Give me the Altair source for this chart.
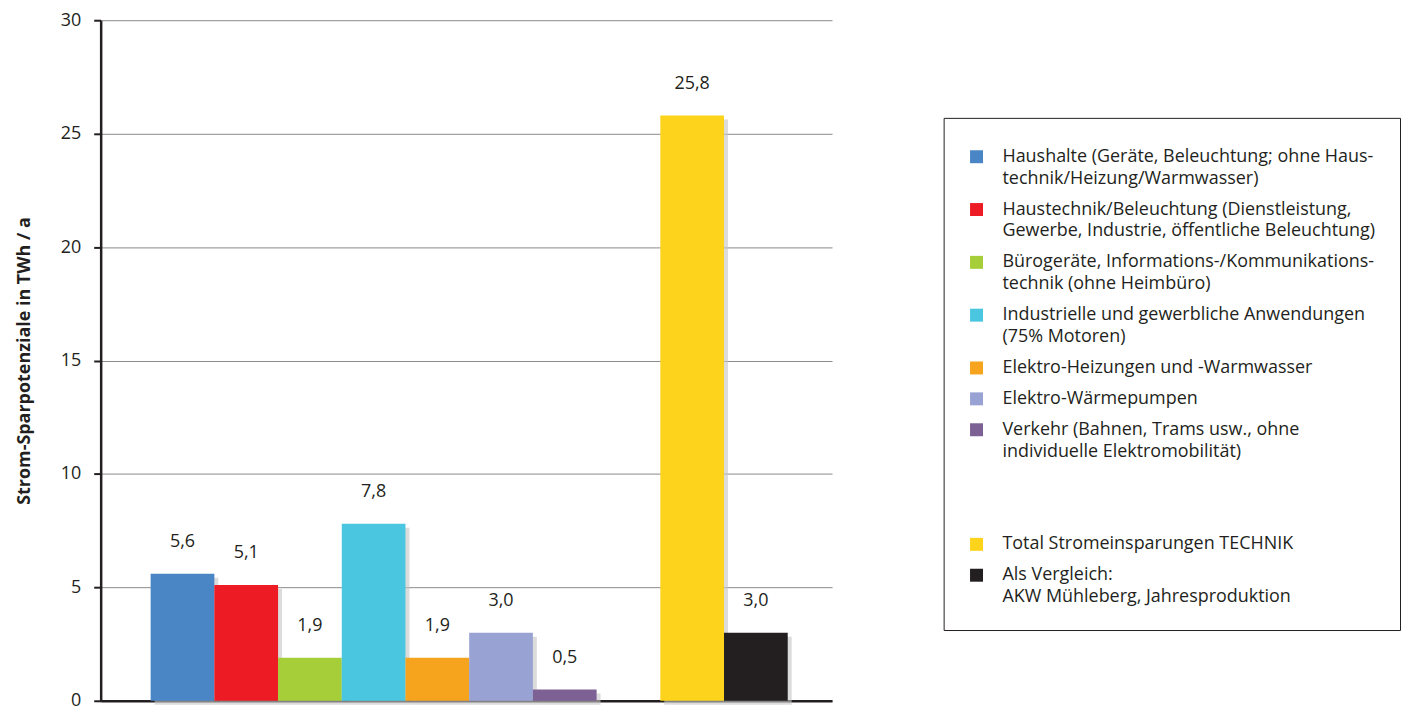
import altair as alt
import pandas as pd

categories = [
    "Haushalte (Geräte, Beleuchtung; ohne Haus-|technik/Heizung/Warmwasser)",
    "Haustechnik/Beleuchtung (Dienstleistung,|Gewerbe, Industrie, öffentliche Beleuchtung)",
    "Bürogeräte, Informations-/Kommunikations-|technik (ohne Heimbüro)",
    "Industrielle und gewerbliche Anwendungen|(75% Motoren)",
    "Elektro-Heizungen und -Warmwasser",
    "Elektro-Wärmepumpen",
    "Verkehr (Bahnen, Trams  usw., ohne|individuelle Elektromobilität)",
    "Total Stromeinsparungen TECHNIK",
    "Als Vergleich:|AKW Mühleberg, Jahresproduktion",
]
values = [5.6, 5.1, 1.9, 7.8, 1.9, 3.0, 0.5, 25.8, 3.0]
value_labels = ["5,6", "5,1", "1,9", "7,8", "1,9", "3,0", "0,5", "25,8", "3,0"]
colors = ["#4A86C5", "#ED1C24", "#A6CE39", "#4AC6E0", "#F6A31E",
          "#98A3D3", "#7D6094", "#FDD31B", "#231F20"]
y_ticks = [0, 5, 10, 15, 20, 25, 30]

gap_slot = " "
blank_a, blank_b = "  ", "   "

x_domain = categories[:7] + [gap_slot] + categories[7:]
color_domain = categories[:7] + [blank_a, blank_b] + categories[7:]
color_range = colors[:7] + ["#ffffff", "#ffffff"] + colors[7:]

df = pd.DataFrame({"cat": categories, "value": values, "label": value_labels})

FONT = "Open Sans"
INK = "#231F20"

x_scale = alt.Scale(domain=x_domain, paddingInner=0, paddingOuter=0.74, align=0.53)
x_enc = alt.X("cat:N", scale=x_scale,
              axis=alt.Axis(labels=False, ticks=False, title=None, grid=False,
                            domainColor=INK, domainWidth=2.5))
y_enc = alt.Y("value:Q", scale=alt.Scale(domain=[0, 30]),
              axis=alt.Axis(values=y_ticks, title="Strom-Sparpotenziale in TWh / a",
                            titleFontSize=18, titleFontWeight="bold", titleFont=FONT,
                            titleColor=INK, titlePadding=27,
                            labelFontSize=18, labelFont=FONT, labelColor=INK,
                            labelLineHeight=18,
                            labelPadding=13, tickSize=7, tickColor=INK, tickWidth=2,
                            domainColor=INK, domainWidth=2.5,
                            grid=True, gridColor="#8a8a8a", gridWidth=1))

shadow = alt.Chart(df).mark_bar(color="#c4c4c4", opacity=0.6, xOffset=4, yOffset=4).encode(
    x=x_enc, y=y_enc)

bars = alt.Chart(df).mark_bar().encode(
    x=x_enc, y=y_enc,
    color=alt.Color("cat:N", scale=alt.Scale(domain=color_domain, range=color_range),
                    legend=alt.Legend(
                        title=" ", titleFontSize=6, titlePadding=0,
                        orient="none", legendX=846, legendY=98,
                        symbolType="square", symbolSize=169, symbolStrokeWidth=0,
                        labelFontSize=18, labelFont=FONT, labelColor=INK,
                        labelExpr="split(datum.label, '|')", labelLimit=600,
                        labelOffset=17, rowPadding=13, padding=24,
                        strokeColor=INK, fillColor="white",
                    )),
)

text = alt.Chart(df).mark_text(fontSize=18, font=FONT, color=INK,
                               dy=-32, baseline="middle").encode(
    x=alt.X("cat:N", scale=x_scale), y="value:Q", text="label:N")

chart = alt.layer(shadow, bars, text).properties(
    width=734, height=683, padding={"left": 7, "top": 2, "right": 0, "bottom": 0}
).configure(
    style={"guide-label": {"lineHeight": 22}}
).configure_view(stroke=None)

chart.save("out.html", embed_options={"renderer": "svg", "actions": False})
